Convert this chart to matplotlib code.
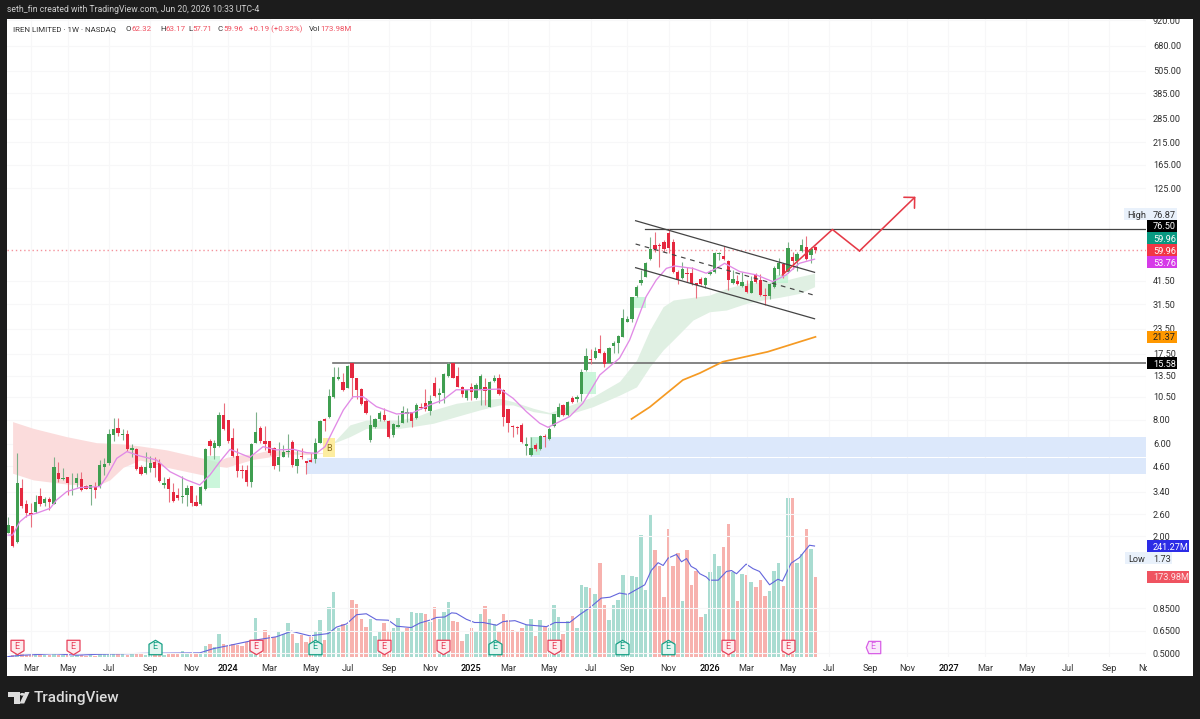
import numpy as np
import pandas as pd
import matplotlib
matplotlib.use('Agg')
import matplotlib.pyplot as plt
from matplotlib.patches import Rectangle, Polygon, Circle
from matplotlib.path import Path

plt.rcParams['font.family'] = ['Roboto', 'DejaVu Sans']

# IREN weekly bars, one entry per week from 2023-01-30
opens = [2.09,2.27,1.86,3.57,2.94,2.65,2.68,3.24,2.98,3.10,
         2.94,4.23,3.97,4.06,3.71,3.75,3.97,3.62,3.52,3.59,
         3.61,4.58,4.76,6.64,7.24,6.66,6.74,5.56,5.62,4.54,
         4.23,4.52,4.84,4.76,3.67,3.95,3.39,3.27,3.19,3.27,
         3.64,3.00,2.94,3.50,6.23,5.69,5.85,8.45,7.96,6.43,
         5.19,4.40,4.40,3.83,6.08,7.27,6.23,6.21,5.73,4.69,
         5.15,5.45,6.11,4.59,5.21,4.89,4.95,4.99,6.08,8.06,
         8.22,10.42,12.91,12.51,11.69,15.61,13.17,11.51,9.94,6.28,
         7.36,8.09,8.49,7.90,6.64,7.36,7.72,8.55,8.72,8.19,
         9.29,9.78,8.86,12.31,10.72,11.02,13.43,15.61,13.43,11.83,
         10.30,11.83,10.30,11.37,11.74,9.33,12.71,13.17,11.37,9.04,
         7.42,7.36,7.51,5.87,5.26,5.92,5.62,6.59,6.33,7.42,
         8.29,9.52,8.42,10.34,10.18,10.80,14.42,16.44,16.57,18.51,
         17.72,15.73,19.18,19.80,21.43,25.61,26.33,34.73,40.69,43.70,
         53.90,63.65,63.65,65.69,73.69,66.22,46.37,42.84,45.46,45.82,
         40.37,42.50,39.42,44.92,46.37,57.19,56.07,52.63,40.69,41.50,
         39.11,39.27,36.13,44.39,42.00,35.15,34.73,38.50,47.86,50.59,
         46.37,55.41,52.84,59.27,61.91,56.52,62.32]
highs = [2.53,2.27,5.36,3.94,3.08,2.96,3.27,3.54,3.20,3.18,
         5.11,4.86,4.49,4.06,4.23,4.23,4.31,3.68,3.68,3.83,
         4.95,5.05,7.13,8.12,8.12,7.13,7.07,5.99,5.69,4.67,
         5.47,5.19,5.11,4.99,4.06,4.06,3.75,3.54,4.10,3.68,
         3.64,3.27,3.64,5.69,6.33,6.28,8.79,9.78,7.96,7.21,
         5.69,4.67,4.67,6.08,8.72,7.42,7.42,6.21,5.80,6.16,
         5.92,6.74,6.28,5.58,5.69,4.89,5.36,6.41,7.96,8.19,
         11.46,15.00,15.00,13.86,15.30,15.73,13.17,11.60,10.30,8.45,
         8.12,8.90,9.15,7.96,7.66,8.45,9.40,9.15,8.79,9.71,
         9.71,11.46,10.72,13.22,11.60,13.97,15.92,15.61,15.00,11.93,
         11.46,12.31,12.41,13.75,13.06,12.71,13.59,13.75,11.46,9.04,
         7.51,7.42,7.66,6.53,6.48,6.04,6.66,6.72,7.30,8.55,
         9.71,9.59,10.02,10.59,10.72,14.54,18.66,18.43,19.03,21.77,
         18.15,19.03,20.43,21.86,29.65,27.39,34.19,39.58,47.30,52.22,
         70.27,74.57,64.92,67.54,76.66,68.08,47.30,52.22,49.21,49.21,
         40.69,43.70,43.70,47.30,58.80,58.80,62.90,53.26,47.30,44.57,
         46.37,42.00,44.04,45.46,45.10,38.04,40.37,49.60,54.33,51.19,
         65.69,58.80,58.80,68.08,70.83,62.40,63.17]
lows = [2.07,1.77,1.84,2.79,2.53,2.24,2.63,2.87,2.87,2.73,
        2.94,3.83,3.91,3.27,3.27,3.61,3.44,3.50,2.90,3.14,
        3.54,4.14,4.67,6.23,6.59,6.28,5.53,5.15,4.40,4.14,
        4.19,4.31,4.06,3.83,3.54,3.02,3.02,3.08,2.98,2.85,
        2.87,2.85,2.89,3.47,5.26,4.99,5.80,7.07,6.08,5.11,
        4.06,3.98,3.64,3.61,6.04,6.04,5.58,5.26,4.43,4.36,
        5.15,5.15,4.54,4.23,4.99,4.19,4.82,4.76,6.04,7.02,
        8.12,10.30,12.81,11.24,11.60,10.30,10.18,9.52,8.55,6.16,
        7.21,7.90,7.90,6.46,6.53,7.30,7.66,7.81,7.36,8.09,
        9.04,8.90,8.45,10.42,9.71,9.71,13.22,13.06,11.74,10.51,
        10.10,10.10,10.18,9.52,9.52,9.26,12.56,10.72,7.42,6.93,
        6.48,6.74,6.04,5.26,5.19,5.53,5.58,5.80,6.28,7.36,
        8.22,8.35,8.35,9.78,9.90,10.02,14.31,15.49,16.50,17.58,
        15.00,15.61,17.58,17.58,21.26,25.50,25.61,34.46,39.58,43.35,
        53.26,58.80,48.82,58.80,58.11,45.46,40.05,42.33,41.18,39.58,
        33.78,39.58,38.04,44.57,45.82,53.26,53.26,37.30,40.05,39.58,
        38.50,36.13,35.85,40.69,34.73,31.21,33.38,38.04,44.57,42.84,
        45.46,47.67,46.74,58.80,53.26,51.60,57.71]
closes = [2.29,1.78,3.78,2.85,2.63,2.58,3.02,2.94,3.10,3.01,
          4.58,3.97,4.02,3.75,3.74,4.00,3.47,3.51,3.67,3.45,
          4.67,4.70,6.74,7.19,6.80,6.74,5.62,5.73,4.45,4.19,
          4.58,4.76,4.50,3.86,3.75,3.50,3.06,3.15,3.23,3.57,
          2.98,2.87,3.58,5.67,5.85,6.08,8.42,7.16,6.18,5.19,
          4.33,4.36,3.83,5.99,6.91,6.18,5.99,5.40,4.63,5.11,
          5.45,5.49,4.65,5.01,5.11,4.76,4.86,6.08,7.87,7.87,
          10.59,13.27,13.32,11.33,15.12,13.17,11.37,9.59,8.62,7.53,
          8.03,8.69,7.96,6.48,7.56,7.53,8.86,8.72,7.90,9.52,
          9.18,9.04,9.98,10.59,10.93,13.70,15.49,13.17,11.83,10.80,
          11.37,11.06,12.07,13.48,11.28,12.56,13.12,10.85,8.29,7.72,
          7.36,7.27,6.11,5.97,5.69,5.62,6.61,6.53,7.13,8.55,
          9.26,8.45,9.90,9.90,10.51,14.14,17.03,16.31,18.07,17.72,
          15.43,18.66,19.80,21.60,26.64,26.33,34.19,38.80,42.00,51.19,
          60.45,60.45,62.90,60.69,61.18,46.37,42.33,47.86,45.10,40.05,
          39.58,40.05,42.84,46.00,58.11,58.11,53.68,42.00,42.50,40.05,
          40.85,36.57,41.50,41.18,35.15,34.73,39.89,48.24,51.19,45.10,
          61.18,52.63,57.19,63.65,53.68,60.45,59.96]

# Weekly volume in millions of shares, with its up/down colouring
volumes = [3,4,6,7,5,4,6,6,4,4,7,4,4,4,3,4,4,3,4,3,
           9,7,8,7,7,6,4,7,7,7,5,7,6,4,4,8,7,7,14,7,
           7,7,9,23,28,22,49,29,25,28,26,25,33,38,84,36,59,47,44,54,
           49,75,51,30,48,32,44,54,80,38,109,142,64,71,70,125,115,83,65,82,
           46,57,75,55,62,84,57,64,98,96,
           96,94,76,109,83,98,119,78,76,35,49,62,56,93,110,82,72,56,94,80,
           59,56,62,70,82,46,81,65,62,112,87,51,78,90,62,157,152,151,136,204,
           112,81,112,123,178,134,177,173,265,146,308,232,197,130,278,198,226,122,233,156,
           188,88,93,185,225,197,239,290,185,121,180,179,163,152,167,133,144,186,204,154,
           345,345,204,225,279,234,173.98]
volume_dir = ("GRGRRRGRGR" "GRGRGGRRGR" "GGGGRGRGRR" "GGRRGRRRGG" "RRGGRGGRRR"
              "RRRGGRRRRG" "GGRGRRRGGR" "GGGRGRRRRG" "GGRRGGGRGG"
              "GRGRGGGRRR" "GRGGRGGRRR" "RRRGGRGRGG" "GRGRGGGRGR" "RGGGGGGGGG"
              "GRRRRRRGRR" "RRGGGGRRGR" "GRGRRRGGGR" "GRGGRGR")

# Volume moving average
vol_ma_week = [0.0,3.3,9.9,15.0,20.0,30.2,41.8,44.7,49.1,53.4,58.5,61.8,65.8,69.8,71.6,73.8,76.0,78.1,80.3,82.9,
               84.7,87.9,89.8,91.9,93.4,95.2,96.7,97.7,99.9,101.7,103.6,106.5,107.9,110.5,113.0,117.4,119.2,122.4,124.6,126.8,
               129.3,131.2,133.3,135.1,138.8,140.2,141.7,142.8,143.9,145.7,146.8,147.9,148.9,150.0,150.8,152.2,152.9,154.8,156.6,157.7,
               158.8,160.9,162.4,163.8,166.0,167.8,168.8,170.7,172.5,174.7,175.8]
vol_ma = [1,4,7,4,6,8,9,18,27,36,44,56,46,51,65,72,92,94,81,80,
          67,64,74,80,86,87,96,95,82,75,75,69,77,79,70,66,75,75,92,107,
          128,130,139,136,157,188,205,199,215,223,207,214,197,191,181,174,167,167,186,188,
          181,202,192,186,157,169,165,204,216,243,241.27]

# Fast moving average of price
ma_week = [0.0,1.0,2.6,4.1,6.2,9.2,10.6,12.8,15.7,20.0,21.5,23.7,25.9,28.8,32.4,35.3,38.9,41.8,44.0,46.2,
           48.4,50.5,52.7,55.6,58.5,62.2,65.1,67.2,69.1,70.9,73.1,75.2,77.4,80.3,84.7,
           88.3,91.9,94.8,97.7,102.8,107.2,110.1,113.0,115.9,117.7,119.5,122.4,125.3,129.0,133.3,
           135.5,139.1,141.3,143.5,145.3,149.3,152.2,154.4,156.2,159.5,163.1,166.7,169.6,172.5,175.8]
ma_price = [2.03,2.03,2.38,2.55,2.63,2.79,3.08,3.4,3.57,3.61,4.06,5.05,5.47,5.19,4.95,4.31,3.91,3.68,4.14,4.86,
            5.62,5.36,5.11,5.8,5.58,5.62,5.4,5.36,5.8,7.07,8.97,10.5,10.5,9.33,8.55,
            8.69,9.52,10.1,11.4,11.4,11.5,10.3,8.79,7.66,7.3,7.66,8.29,9.71,13.6,16.6,
            20.6,34.5,42,48.2,49.6,48.2,45.5,48.2,51.2,46.4,44.6,41.2,44.6,51.2,53.76]

# Slow moving average
slow_week = [135.9,139.9,147.1,150.8,155.8,165.6,176.0]
slow_price = [8.06,9.29,12.8,13.9,15.9,17.9,21.37]

# Moving-average cloud: bearish stretch, then bullish stretch
bear_week = [1.0,5.5,12.8,19.3,22.2,25.1,28.8,34.6,42.6,45.5,47.6,50.5,53.4,56.4,60.7,65.1,68.7]
bear_top = [7.81,7.21,6.53,6.08,6.04,5.99,5.85,5.58,5.05,4.86,5.11,5.26,5.32,5.53,5.53,5.4,5.4]
bear_bottom = [4.23,3.91,3.72,3.64,3.91,4.54,4.95,4.54,4.14,4.61,4.54,4.76,4.99,5.11,5.32,5.28,5.36]
bull_week = [70.9,74.5,78.1,85.4,89.0,92.7,97.7,102.8,107.2,110.1,114.5,118.1,121.7,127.5,133.3,
             137.0,139.9,142.8,145.0,149.3,152.9,156.6,160.9,165.3,168.2,172.5,175.8]
bull_top = [6.08,7.51,7.96,7.96,8.29,8.97,9.71,10.1,10.3,9.9,9.15,8.69,9.33,10.5,12.6,
            16.2,23.2,30.6,33.1,34.2,35.1,38,40.4,41.2,41.2,43.7,45.5]
bull_bottom = [6.04,6.53,7.21,7.21,7.42,7.66,8.29,8.97,9.52,9.52,8.79,8.55,8.45,9.33,10.7,
               11.8,15,18.3,20.6,26.1,28.8,29.4,31.8,33.4,34.2,35.8,38.8]

# Drawing tools on the chart
channel_week = [136.8, 175.8]
channel_top = [84.9, 46]
channel_mid = [64.4, 35]
channel_bottom = [48.6, 26.5]
path_week = [168.8, 179.7, 185.6, 197.8]
path_price = [44.6, 76.5, 59.3, 113]
level_high = 76.50
level_high_start = 138.8
level_low = 15.58
level_low_start = 70.8
last_close = 59.96

# Demand zones (first week, low, high) and breakout blocks (first week, last week, low, high)
zones = [(65.1, 4.17, 5.07), (113.7, 5.11, 6.49)]
blocks = [(43.1, 46.2, 3.54, 5.19), (124.6, 128.1, 10.8, 14.1), (135.9, 139.0, 30, 34.4),
          (167.5, 170.0, 40.4, 44.6), (113.7, 115.9, 5.26, 6.53)]
buy_box = (68.6, 71.2, 5.13, 6.43)

# Earnings flags by week
earn_miss = [2, 14.2, 54, 82, 94.8, 119, 156.9, 170]
earn_beat = [32, 66.9, 106.1, 133.8, 143.8]
earn_next = [188.5]

# Axis labels
price_ticks = [920, 680, 505, 385, 285, 215, 165, 125, 41.5, 31.5, 23.5, 17.5, 13.5, 10.5, 8, 6, 4.6, 3.4,
               2.6, 2, 0.85, 0.65, 0.5]
price_labels = ['920.00','680.00','505.00','385.00','285.00','215.00','165.00','125.00','41.50','31.50',
                '23.50','17.50','13.50','10.50','8.00','6.00','4.60','3.40','2.60','2.00',
                '0.8500','0.6500','0.5000']
date_ticks = ['2023-03-06','2023-05-01','2023-07-03','2023-09-04','2023-11-06','2024-01-01','2024-03-04','2024-05-06',
              '2024-07-01','2024-09-02','2024-11-04','2025-01-06','2025-03-03','2025-05-05','2025-07-07','2025-09-01',
              '2025-11-03','2026-01-05','2026-03-02','2026-05-04','2026-07-06','2026-09-07','2026-11-02','2027-01-04',
              '2027-03-01','2027-05-03','2027-07-05','2027-09-06','2027-11-01']
date_labels = ['Mar','May','Jul','Sep','Nov','2024','Mar','May','Jul','Sep','Nov','2025','Mar','May','Jul','Sep',
               'Nov','2026','Mar','May','Jul','Sep','Nov','2027','Mar','May','Jul','Sep','Nov']

W, H = 1200, 719
UP, DOWN = '#3f9e50', '#e5283f'
UP_WICK, DOWN_WICK = '#7db08a', '#e9707f'
DARK = '#1c1c1c'


def fx(x):
    return x / W


def fy(y):
    return 1 - y / H


fig = plt.figure(figsize=(W / 100, H / 100), dpi=100, facecolor=DARK)

panel = fig.add_axes([fx(7), fy(676), fx(1193) - fx(7), fy(19) - fy(676)], zorder=0)
panel.set_facecolor('white')
panel.set_xticks([])
panel.set_yticks([])
for s in panel.spines.values():
    s.set_visible(False)

rect = [fx(7), fy(657), fx(1146) - fx(7), fy(19) - fy(657)]
vol_ax = fig.add_axes(rect, zorder=1)
ax = fig.add_axes(rect, zorder=2)
for a in (vol_ax, ax):
    a.patch.set_visible(False)
    for s in a.spines.values():
        s.set_visible(False)

start = pd.Timestamp('2023-01-30')
weeks = np.arange(len(closes))
xlim = (-0.22, 248.05)

# Volume pane
vol_colors = ['#a9dcd1' if d == 'G' else '#f7b2ae' for d in volume_dir]
vol_ax.bar(weeks, volumes, width=0.76, color=vol_colors, linewidth=0)
vol_ax.plot(vol_ma_week, vol_ma, color='#6365dc', lw=0.8)
vol_ax.set_xlim(xlim)
vol_ax.set_ylim(0, 1387)
vol_ax.set_xticks([])
vol_ax.set_yticks([])

# Price pane
ax.set_yscale('log')
ax.set_xlim(xlim)
ax.set_ylim(0.477, 932)

for wk0, lo, hi in zones:
    ax.fill_between([wk0, xlim[1]], lo, hi, color='#dce8fb', lw=0, zorder=1)
ax.fill_between(bear_week, bear_bottom, bear_top, color='#fbdcdc', lw=0, zorder=1)
ax.fill_between(bull_week, bull_bottom, bull_top, color='#e0f0e3', lw=0, zorder=1)
for w0, w1, lo, hi in blocks:
    ax.fill_between([w0, w1], lo, hi, color='#baf3cf', alpha=0.75, lw=0, zorder=1.5)
ax.fill_between(buy_box[:2], buy_box[2], buy_box[3], color='#fdeda0', lw=0, zorder=1.5)
ax.text(np.mean(buy_box[:2]), 5.65, 'B', fontsize=6.5, color='#8a6d1f', ha='center', va='center', zorder=6)

ax.axhline(last_close, color='#f4939c', lw=1, ls=(0, (1, 2)), zorder=2)
ax.plot([level_low_start, xlim[1]], [level_low] * 2, color='#6f6f6f', lw=1.2, zorder=2)
ax.plot([level_high_start, xlim[1]], [level_high] * 2, color='#444444', lw=0.9, zorder=2)

# Candles
o, h, l, c = map(np.array, (opens, highs, lows, closes))
up = c >= o
wick_colors = [UP_WICK if u else DOWN_WICK for u in up]
ax.vlines(weeks, l, h, colors=wick_colors, lw=0.8, zorder=3)
ax.bar(weeks, np.abs(c - o), bottom=np.minimum(o, c), width=0.72, linewidth=0,
       color=[UP if u else DOWN for u in up], zorder=3.5)

ax.plot(ma_week, ma_price, color='#e18ae6', lw=0.95, zorder=4)
ax.plot(slow_week, slow_price, color='#f59a23', lw=1.25, zorder=4)

ax.plot(channel_week, channel_top, color='#444444', lw=0.9, zorder=4.5)
ax.plot(channel_week, channel_mid, color='#444444', lw=0.85, ls=(0, (4, 4)), zorder=4.5)
ax.plot(channel_week, channel_bottom, color='#444444', lw=0.9, zorder=4.5)
ax.plot(path_week[:3], path_price[:3], color='#e53a47', lw=1.15, zorder=5)
ax.annotate('', xy=(path_week[3], path_price[3]), xytext=(path_week[2], path_price[2]),
            arrowprops=dict(arrowstyle='->,head_length=0.55,head_width=0.55', color='#e53a47', lw=1.15,
                            shrinkA=0, shrinkB=0, mutation_scale=10), zorder=5)

# Earnings flags near the foot of the price pane
shield_down = Path([(-0.9, 1), (0.9, 1), (0.9, -0.45), (0, -1), (-0.9, -0.45), (-0.9, 1)], closed=True)
shield_up = Path([(-0.9, -1), (0.9, -1), (0.9, 0.45), (0, 1), (-0.9, 0.45), (-0.9, -1)], closed=True)
tag_left = Path([(-1, 0), (-0.65, 0.85), (1, 0.85), (1, -0.85), (-0.65, -0.85), (-1, 0)], closed=True)
xt = ax.get_xaxis_transform()
for xs, marker, edge, face in ((earn_miss, shield_down, '#e8405a', '#fdecee'),
                               (earn_beat, shield_up, '#16a085', '#e3f6f1'),
                               (earn_next, tag_left, '#d85fe6', '#f9e8fb')):
    ax.scatter(xs, [0.016] * len(xs), s=108, marker=marker, edgecolors=edge, facecolors=face,
               linewidths=0.9, transform=xt, zorder=6, clip_on=False)
    for x in xs:
        ax.text(x, 0.016, 'E', transform=xt, fontsize=6.5, color=edge, ha='center', va='center', zorder=7)

# Axes, labels and grid
ax.yaxis.tick_right()
ax.set_yticks(price_ticks)
ax.set_yticklabels(price_labels)
ax.minorticks_off()
ax.tick_params(axis='y', length=0, pad=5, labelsize=6.6, labelcolor='#2f2f2f')
week_ticks = [(pd.Timestamp(d) - start).days / 7 for d in date_ticks]
ax.set_xticks(week_ticks)
ax.set_xticklabels(date_labels)
ax.tick_params(axis='x', length=0, pad=5, labelsize=6.6, labelcolor='#333333')
for lbl in ax.get_xticklabels():
    if lbl.get_text().startswith('20'):
        lbl.set_color('#000000')
        lbl.set_fontweight('medium')
ax.grid(True, color='#f7f7f8', lw=0.8, zorder=0)
ax.set_axisbelow(True)

# Dark top band and right clip of the time axis
fig.add_artist(Rectangle((0, fy(19)), 1, 1 - fy(19), transform=fig.transFigure, color=DARK, lw=0, zorder=5))
fig.add_artist(Rectangle((fx(1147), fy(676)), fx(1193) - fx(1147), fy(657) - fy(676),
                         transform=fig.transFigure, color='white', lw=0, zorder=5))


def value_box(axis, value, text, bg, fg, shift=0, x0=1147, x1=1177, extra=None):
    """Price-scale tag anchored to a value and nudged clear of its neighbours."""
    y_disp = axis.transData.transform((0, value))[1] + shift
    fig.add_artist(Rectangle((fx(x0), (y_disp - 6) / H), fx(x1) - fx(x0), 12 / H, transform=fig.transFigure,
                             color=bg, lw=0, zorder=6))
    fig.text(fx(1153), y_disp / H, text, color=fg, fontsize=6.6, ha='left', va='center_baseline', zorder=7)
    if extra:
        fig.text(fx(x0 + 3), y_disp / H, extra, color=fg, fontsize=6.6, ha='left', va='center_baseline', zorder=7)


value_box(ax, 76.87, '76.87', '#e9f1fb', '#2f2f2f', shift=15, x0=1124, extra='High')
value_box(ax, level_high, '76.50', '#000000', 'white', shift=3.5)
value_box(ax, last_close, '59.96', '#089981', 'white', shift=12)
value_box(ax, last_close, '59.96', '#f23645', 'white')
value_box(ax, ma_price[-1], '53.76', '#d63be8', 'white', shift=-3)
value_box(ax, slow_price[-1], '21.37', '#ff9800', '#222222')
value_box(ax, level_low, '15.58', '#000000', 'white')
value_box(vol_ax, vol_ma[-1], '241.27M', '#2c2ce6', 'white', x1=1189)
value_box(ax, 1.73, '1.73', '#e9f1fb', '#2f2f2f', shift=-9.5, x0=1125, x1=1172, extra='Low')
value_box(vol_ax, volumes[-1], '173.98M', '#ef5360', '#fde3e5', x1=1189)

# Header lines
fig.text(fx(7), fy(10), 'seth_fin created with TradingView.com, Jun 20, 2026 10:33 UTC-4', color='#cfcfcf',
         fontsize=6.2, va='center', zorder=7)
legend_parts = [(13, 'IREN LIMITED · 1W · NASDAQ', '#333333'), (125, 'O', '#333333'), (131, '62.32', '#ef5060'),
                (160, 'H', '#333333'), (165, '63.17', '#ef5060'), (188, 'L', '#333333'), (192, '57.71', '#ef5060'),
                (218, 'C', '#333333'), (223, '59.96', '#ef5060'), (249, '+0.19 (+0.32%)', '#ef5060'),
                (309, 'Vol', '#333333'), (320, '173.98M', '#ef5060')]
for x, txt, col in legend_parts:
    fig.text(fx(x), fy(29), txt, color=col, fontsize=5.7, va='center', zorder=7)

# Wordmark in the footer
logo = '#dcdcdc'
fig.add_artist(Polygon([(fx(8), fy(692)), (fx(19.5), fy(692)), (fx(19.5), fy(703.5)), (fx(14), fy(703.5)),
                        (fx(14), fy(697)), (fx(8), fy(697))], closed=True, transform=fig.transFigure, color=logo, lw=0))
fig.add_artist(Circle((fx(22.3), fy(694.3)), 2.3 / W, transform=fig.transFigure, color=logo, lw=0))
fig.add_artist(Polygon([(fx(25), fy(692)), (fx(29.5), fy(692)), (fx(24.2), fy(703.5)), (fx(19.5), fy(703.5))],
                       closed=True, transform=fig.transFigure, color=logo, lw=0))
fig.text(fx(34), fy(698), 'TradingView', color=logo, fontsize=11, fontweight='medium', va='center')

fig.savefig('out.png', dpi=100, facecolor=DARK)
